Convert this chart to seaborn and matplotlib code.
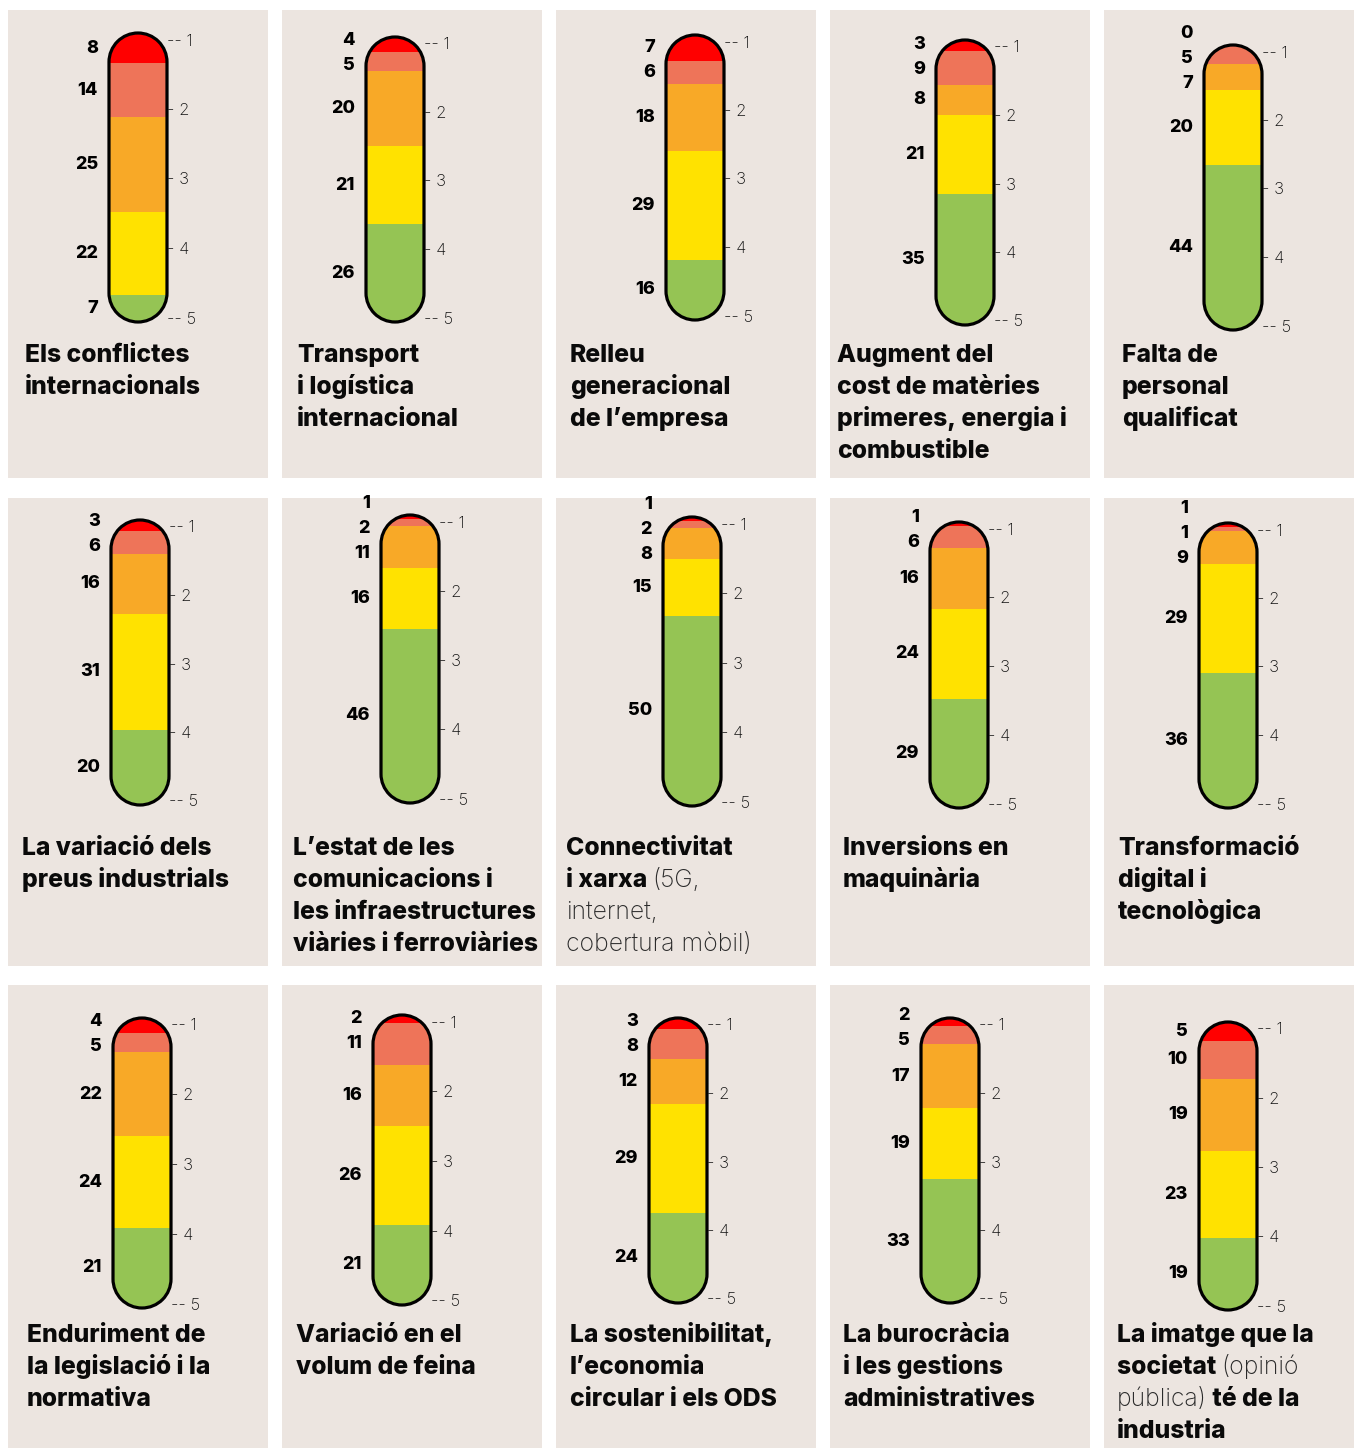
import numpy as np
import pandas as pd
import matplotlib
matplotlib.use("Agg")
import matplotlib.pyplot as plt
import seaborn as sns
from matplotlib.path import Path
from matplotlib.patches import PathPatch, Rectangle
from matplotlib import transforms

# ---------------- data ----------------
titles = [
    "Els conflictes\ninternacionals",
    "Transport\ni logística\ninternacional",
    "Relleu\ngeneracional\nde l’empresa",
    "Augment del\ncost de matèries\nprimeres, energia i\ncombustible",
    "Falta de\npersonal\nqualificat",
    "La variació dels\npreus industrials",
    "L’estat de les\ncomunicacions i\nles infraestructures\nviàries i ferroviàries",
    "Connectivitat\ni xarxa (5G,\ninternet,\ncobertura mòbil)",
    "Inversions en\nmaquinària",
    "Transformació\ndigital i\ntecnològica",
    "Enduriment de\nla legislació i la\nnormativa",
    "Variació en el\nvolum de feina",
    "La sostenibilitat,\nl’economia\ncircular i els ODS",
    "La burocràcia\ni les gestions\nadministratives",
    "La imatge que la\nsocietat (opinió\npública) té de la\nindustria",
]
level_1 = [8, 4, 7, 3, 0, 3, 1, 1, 1, 1, 4, 2, 3, 2, 5]          # red (top)
level_2 = [14, 5, 6, 9, 5, 6, 2, 2, 6, 1, 5, 11, 8, 5, 10]       # salmon
level_3 = [25, 20, 18, 8, 7, 16, 11, 8, 16, 9, 22, 16, 12, 17, 19]  # orange
level_4 = [22, 21, 29, 21, 20, 31, 16, 15, 24, 29, 24, 26, 29, 19, 23]  # yellow
level_5 = [7, 26, 16, 35, 44, 20, 46, 50, 29, 36, 21, 21, 24, 33, 19]   # green (bottom)
scale_labels = ["-- 1", "- 2", "- 3", "- 4", "-- 5"]

# ---------------- style / layout ----------------
sns.set_theme(style="white")
plt.rcParams['font.family'] = ['Inter', 'DejaVu Sans']

level_colors = ["#FF0000", "#EE7459", "#F8A927", "#FFE200", "#95C454"]
panel_bg = "#ECE5E0"

W, H = 1354, 1448
fig = plt.figure(figsize=(W / 100, H / 100), dpi=100)
fig.patch.set_facecolor("white")

col_left = [8, 282, 556, 830, 1104]
col_w = [260, 260, 260, 260, 250]
row_top = [10, 498, 985]
row_h = [468, 468, 463]

cap_cx = [138, 395, 695, 965, 1233, 140, 410, 692, 959, 1228, 142, 402, 678, 950, 1228]
cap_top = [33, 37, 35, 40, 45, 520, 515, 517, 522, 523, 1018, 1015, 1018, 1018, 1022]
cap_bot = [322, 322, 320, 325, 330, 805, 803, 806, 808, 808, 1308, 1305, 1303, 1303, 1310]
cap_w = 58
title_x = [25, 297, 570, 837, 1122, 22, 293, 566, 843, 1118, 27, 296, 570, 843, 1117]
title_base = [362, 855, 1342]
line_step = 32
title_fs = 17.8
num_fs = 13
tick_fs = 12


def capsule_path(wp, hp):
    r = wp / 2.0
    arc_top = Path.arc(0, 180)
    arc_bot = Path.arc(180, 360)
    vt = arc_top.vertices * r + np.array([r, hp - r])
    vb = arc_bot.vertices * r + np.array([r, r])
    verts = [(wp, r)] + [(wp, hp - r)] + list(vt[1:]) + [(0, r)] + list(vb[1:]) + [(wp, r)]
    codes = ([Path.MOVETO, Path.LINETO] + list(arc_top.codes[1:]) + [Path.LINETO]
             + list(arc_bot.codes[1:]) + [Path.CLOSEPOLY])
    return Path(np.array(verts), codes)


def spread(ys, gap, iters=300):
    ys = list(ys)
    for _ in range(iters):
        moved = False
        for j in range(len(ys) - 1):
            d = ys[j] - ys[j + 1]
            if d < gap - 1e-6:
                s = (gap - d) / 2
                ys[j] += s
                ys[j + 1] -= s
                moved = True
        if not moved:
            break
    return ys


def parse_title(s):
    lines = []
    light = False
    for raw in s.split("\n"):
        segs = []
        cur = ""
        for ch in raw:
            if ch == "(":
                if cur:
                    segs.append((cur, light))
                cur = "("
                light = True
            elif ch == ")":
                cur += ")"
                segs.append((cur, light))
                cur = ""
                light = False
            else:
                cur += ch
        if cur:
            segs.append((cur, light))
        lines.append(segs)
    return lines


renderer = fig.canvas.get_renderer()

for i in range(15):
    r_, c_ = divmod(i, 5)
    # panel background
    fig.add_artist(Rectangle((col_left[c_] / W, 1 - (row_top[r_] + row_h[r_]) / H),
                             col_w[c_] / W, row_h[r_] / H, transform=fig.transFigure,
                             facecolor=panel_bg, edgecolor="none", zorder=0))

    hp = cap_bot[i] - cap_top[i]
    ax = fig.add_axes([(cap_cx[i] - cap_w / 2) / W, 1 - cap_bot[i] / H, cap_w / W, hp / H])
    ax.set_facecolor("none")

    vals = [level_1[i], level_2[i], level_3[i], level_4[i], level_5[i]]
    total = float(sum(vals))
    cum = np.cumsum(vals[::-1])[::-1]   # top of each segment
    for k in range(5):
        df = pd.DataFrame({"q": ["x"], "v": [cum[k]]})
        sns.barplot(data=df, x="q", y="v", color=level_colors[k], saturation=1,
                    width=1, errorbar=None, ax=ax, linewidth=0)
    ax.set_xlim(-0.5, 0.5)
    ax.set_ylim(0, total)
    ax.axis("off")

    ptrans = transforms.Affine2D().scale(1 / cap_w, 1 / hp) + ax.transAxes
    cpath = capsule_path(cap_w, hp)
    clip = PathPatch(cpath, transform=ptrans, facecolor="none", edgecolor="none")
    for p in list(ax.patches):
        p.set_clip_path(clip)
    outline = PathPatch(cpath, transform=ptrans, facecolor="none", edgecolor="black",
                        lw=2.3, clip_on=False, zorder=10)
    ax.add_artist(outline)

    # value labels (left)
    bottoms = list(cum[1:]) + [0]
    mids_px = [(bottoms[k] + vals[k] / 2) * hp / total for k in range(5)]
    ys = spread(mids_px, 25)
    ltrans = transforms.offset_copy(ax.get_yaxis_transform(), fig=fig, x=-11, units="dots")
    for k in range(5):
        ax.text(0, ys[k] * total / hp, str(vals[k]), transform=ltrans, ha="right",
                va="center", fontsize=num_fs, fontweight=800, color="black",
                clip_on=False)

    # scale labels (right)
    rtrans = transforms.offset_copy(ax.transAxes, fig=fig, x=0, units="dots")
    for t, lab in enumerate(scale_labels):
        yf = 1 - (8 + t * (hp - 11) / 4) / hp
        ax.text(1, yf, lab, transform=rtrans, ha="left", va="center",
                fontsize=tick_fs, fontweight="light", color="#111111", clip_on=False)

    # title
    for li, segs in enumerate(parse_title(titles[i])):
        x = title_x[i]
        yb = title_base[r_] + li * line_step
        for text, light in segs:
            t = fig.text(x / W, 1 - yb / H, text, ha="left", va="baseline",
                         fontsize=title_fs, color="#0a0a0a" if not light else "#2a2a2a",
                         fontweight="light" if light else 800)
            bb = t.get_window_extent(renderer)
            x = bb.x1

fig.savefig("out.png", dpi=100, facecolor="white")
